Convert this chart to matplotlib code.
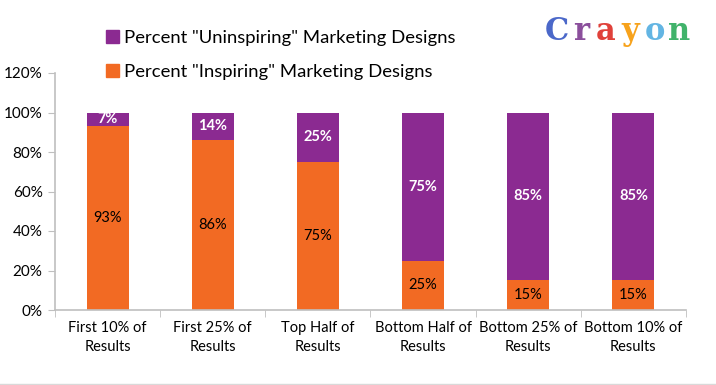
import numpy as np
import matplotlib.pyplot as plt
from matplotlib.patches import Patch

categories = ['First 10% of\nResults', 'First 25% of\nResults', 'Top Half of\nResults',
              'Bottom Half of\nResults', 'Bottom 25% of\nResults', 'Bottom 10% of\nResults']
inspiring = [93, 86, 75, 25, 15, 15]
uninspiring = [7, 14, 25, 75, 85, 85]
yticks = [0, 20, 40, 60, 80, 100, 120]

orange = '#f26a23'
purple = '#8b2a91'
grey = '#bfbfbf'

plt.rcParams['font.family'] = ['Lato', 'DejaVu Sans']

fig = plt.figure(figsize=(7.16, 3.85), dpi=100)
ax = fig.add_axes([55 / 716, 75 / 385, 631 / 716, 237 / 385])

x = np.arange(len(categories))
b1 = ax.bar(x, inspiring, width=0.4, color=orange, zorder=2)
b2 = ax.bar(x, uninspiring, width=0.4, bottom=inspiring, color=purple, zorder=2)

for i in range(len(x)):
    ax.text(x[i], inspiring[i] / 2, f'{inspiring[i]}%', ha='center', va='center',
            fontsize=10.5, color='black')
    ax.text(x[i], inspiring[i] + uninspiring[i] / 2, f'{uninspiring[i]}%', ha='center',
            va='center', fontsize=10.5, color='white', fontweight='bold')

ax.set_xlim(-0.5, len(categories) - 0.5)
ax.set_ylim(0, 120)
ax.set_yticks(yticks)
ax.set_yticklabels([f'{t}%' for t in yticks], fontsize=11)
ax.set_xticks(x)
ax.set_xticklabels(categories, fontsize=10.5, linespacing=1.45)
ax.tick_params(axis='x', length=0, pad=8)
ax.set_xticks(np.arange(-0.5, len(categories), 1), minor=True)
ax.tick_params(axis='x', which='minor', length=5, color=grey, direction='out')
ax.tick_params(axis='y', length=5, color=grey, direction='out', pad=4)
for s in ['top', 'right']:
    ax.spines[s].set_visible(False)
for s in ['left', 'bottom']:
    ax.spines[s].set_color(grey)
    ax.spines[s].set_linewidth(1.2)

handles = [Patch(color=purple), Patch(color=orange)]
labels = ['Percent "Uninspiring" Marketing Designs', 'Percent "Inspiring" Marketing Designs']
fig.legend(handles, labels, loc='upper left', bbox_to_anchor=(106 / 716, 1 - 30 / 385),
           frameon=False, fontsize=13.3, handlelength=0.7, handleheight=0.7,
           handletextpad=0.3, labelspacing=0.95, borderpad=0, borderaxespad=0)

# logo
logo = 'Crayon'
logo_colors = ['#4b68c9', '#8b4f9c', '#e0413a', '#f7a21b', '#63b5e3', '#41b36b']
for i, (ch, c) in enumerate(zip(logo, logo_colors)):
    fig.text((557 + i * 24.4) / 716, 1 - 40 / 385, ch, color=c, ha='center', va='baseline',
             fontsize=22, fontweight='bold', family='DejaVu Serif')

fig.add_artist(plt.Line2D([0, 1], [1 / 385, 1 / 385], color='#d9d9d9', lw=1))

fig.savefig('out.png', dpi=100)
